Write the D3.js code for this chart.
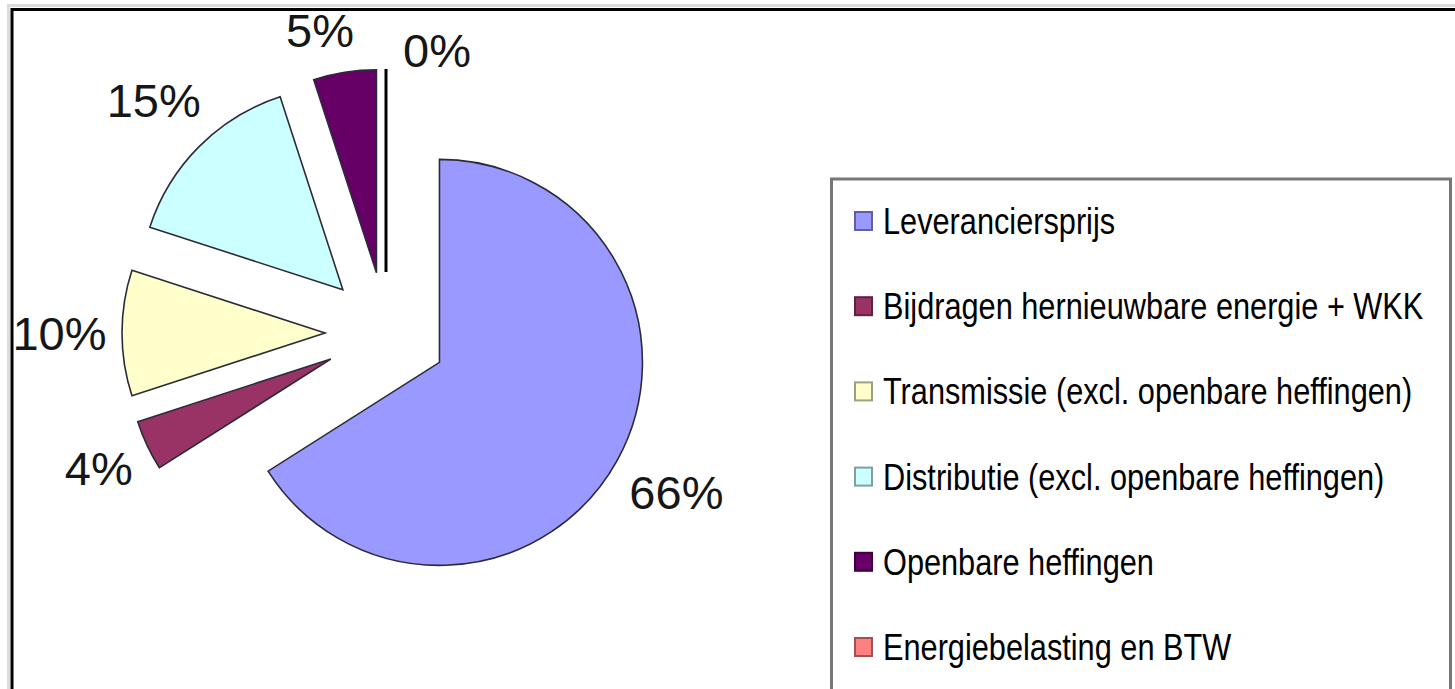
<!DOCTYPE html>
<html>
<head>
<meta charset="utf-8">
<script src="https://cdn.jsdelivr.net/npm/d3@7"></script>
<style>
  body { margin: 0; background: #fff; }
  svg { display: block; }
  text { font-family: 'Liberation Sans', Arial, sans-serif; }
</style>
</head>
<body>
<div id="chart"></div>
<script>
const categories = [
  'Leveranciersprijs',
  'Bijdragen hernieuwbare energie + WKK',
  'Transmissie (excl. openbare heffingen)',
  'Distributie (excl. openbare heffingen)',
  'Openbare heffingen',
  'Energiebelasting en BTW'
]
const values = [66, 4, 10, 15, 5, 0]
const colors = ['#9999ff', '#993366', '#ffffcc', '#ccffff', '#660066', '#ff8080']

const width = 1455
const height = 689

const svg = d3
  .select('#chart')
  .append('svg')
  .attr('width', width)
  .attr('height', height)

// outer chart frame (runs off the right and bottom)
svg.append('rect')
  .attr('x', 8.5).attr('y', 5.5)
  .attr('width', 1500).attr('height', 800)
  .attr('fill', 'none').attr('stroke', '#dcdcdc').attr('stroke-width', 3)
svg.append('rect')
  .attr('x', 12).attr('y', 9.5)
  .attr('width', 1500).attr('height', 800)
  .attr('fill', '#fff').attr('stroke', '#000').attr('stroke-width', 3)

const cx = 386
const cy = 333
const radius = 203
const explode = 61

const pie = d3.pie().sort(null).value(d => d)
const arcs = pie(values)

const arc = d3.arc().innerRadius(0).outerRadius(radius)

const g = svg.append('g').attr('transform', 'translate(' + cx + ',' + cy + ')')

function dir(d) {
  const a = (d.startAngle + d.endAngle) / 2
  return [Math.sin(a), -Math.cos(a)]
}

g.selectAll('path')
  .data(arcs)
  .enter()
  .append('path')
  .attr('d', arc)
  .attr('transform', function(d) {
    const [dx, dy] = dir(d)
    return 'translate(' + dx * explode + ',' + dy * explode + ')'
  })
  .attr('fill', (d, i) => colors[i])
  .attr('stroke', d => (d.value === 0 ? '#000' : '#2b2b3a'))
  .attr('stroke-width', d => (d.value === 0 ? 3 : 1.6))
  .attr('stroke-linejoin', 'miter')

// data labels
const labelSize = 47
const gap = 16
g.selectAll('text.pct')
  .data(arcs)
  .enter()
  .append('text')
  .attr('class', 'pct')
  .attr('font-size', labelSize)
  .attr('fill', '#161616')
  .attr('text-anchor', d => (d.value === 0 ? 'start' : 'middle'))
  .attr('dominant-baseline', 'central')
  .attr('transform', function(d, i) {
    const [dx, dy] = dir(d)
    const ox = dx * explode
    const oy = dy * explode
    if (d.value === 0) {
      // zero slice: label sits beside the top of its line
      return 'translate(' + (ox + 17) + ',' + (oy - radius - 19) + ')'
    }
    const label = d.value + '%'
    const hw = label.length * 0.33 * labelSize
    const hh = 22
    let dist = radius + gap + Math.abs(dx) * hw + Math.abs(dy) * hh
    let x = ox + dx * dist
    // make room for a following zero-slice label
    if (arcs[i + 1] && arcs[i + 1].value === 0) x -= 18
    return 'translate(' + x + ',' + (oy + dy * dist) + ')'
  })
  .text(d => d.value + '%')

// legend
const legend = svg.append('g')
legend.append('rect')
  .attr('x', 831.5).attr('y', 179)
  .attr('width', 619).attr('height', 600)
  .attr('fill', '#fff').attr('stroke', '#777').attr('stroke-width', 3)

const rowScale = d3.scalePoint().domain(categories).range([221, 647])

const rows = legend.selectAll('g.row')
  .data(categories)
  .enter()
  .append('g')
  .attr('class', 'row')
  .attr('transform', d => 'translate(0,' + rowScale(d) + ')')

rows.append('rect')
  .attr('x', 855).attr('y', -9)
  .attr('width', 17).attr('height', 18)
  .attr('fill', (d, i) => colors[i])
  .attr('stroke', (d, i) => d3.color(colors[i]).darker(1.3))
  .attr('stroke-width', 2)

rows.append('text')
  .attr('transform', 'translate(883,13) scale(0.83,1)')
  .attr('font-size', 37)
  .attr('fill', '#000')
  .text(d => d)
</script>
</body>
</html>
